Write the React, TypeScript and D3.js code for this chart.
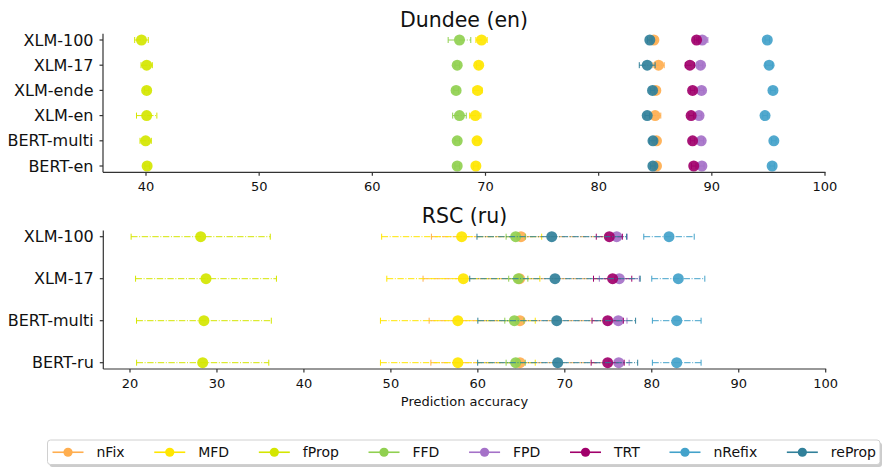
import React, { useMemo } from "react";
import * as d3 from "d3";

// ---------- DATA ----------
const seriesNames = ["nFix", "MFD", "fProp", "FFD", "FPD", "TRT", "nRefix", "reProp"];
const seriesColors = ["#ffae4f", "#ffe600", "#d4e600", "#90d050", "#a571c8", "#a1006b", "#43a2ca", "#31809a"];

const dundeeModels = ["XLM-100", "XLM-17", "XLM-ende", "XLM-en", "BERT-multi", "BERT-en"];
const dundeeTicks = [40, 50, 60, 70, 80, 90, 100];

const dundeeNFix = [84.88, 85.29, 85.05, 84.99, 85.11, 85.11];
const dundeeNFixErr = [0.2, 0.5, 0.2, 0.5, 0.2, 0.2];
const dundeeMFD = [69.65, 69.4, 69.3, 69.1, 69.25, 69.15];
const dundeeMFDErr = [0.5, 0.2, 0.4, 0.5, 0.2, 0.2];
const dundeeFProp = [39.6, 40.06, 40.06, 40.06, 39.97, 40.1];
const dundeeFPropErr = [0.6, 0.5, 0.2, 0.9, 0.5, 0.2];
const dundeeFFD = [67.7, 67.5, 67.4, 67.7, 67.5, 67.5];
const dundeeFFDErr = [1.0, 0.2, 0.2, 0.6, 0.2, 0.2];
const dundeeFPD = [89.15, 89.0, 89.09, 88.87, 89.06, 89.12];
const dundeeFPDErr = [0.5, 0.2, 0.2, 0.2, 0.2, 0.2];
const dundeeTRT = [88.65, 88.06, 88.3, 88.17, 88.3, 88.4];
const dundeeTRTErr = [0.2, 0.4, 0.2, 0.2, 0.2, 0.2];
const dundeeNRefix = [94.9, 95.06, 95.4, 94.7, 95.48, 95.33];
const dundeeNRefixErr = [0.2, 0.3, 0.2, 0.2, 0.2, 0.2];
const dundeeReProp = [84.52, 84.29, 84.76, 84.29, 84.8, 84.79];
const dundeeRePropErr = [0.2, 0.7, 0.2, 0.2, 0.3, 0.2];

const rscModels = ["XLM-100", "XLM-17", "BERT-multi", "BERT-ru"];
const rscTicks = [20, 30, 40, 50, 60, 70, 80, 90, 100];

const rscNFix = [64.96, 64.8, 64.85, 64.85];
const rscNFixErr = [10.3, 11.1, 10.45, 10.25];
const rscMFD = [58.14, 58.33, 57.7, 57.7];
const rscMFDErr = [9.2, 8.8, 8.9, 8.9];
const rscFProp = [28.13, 28.74, 28.5, 28.36];
const rscFPropErr = [8.0, 8.1, 7.75, 7.6];
const rscFFD = [64.35, 64.65, 64.2, 64.35];
const rscFFDErr = [1.1, 1.1, 1.1, 1.1];
const rscFPD = [75.97, 76.27, 76.15, 76.2];
const rscFPDErr = [1.2, 2.3, 1.0, 1.2];
const rscTRT = [75.12, 75.5, 74.93, 74.93];
const rscTRTErr = [1.5, 2.2, 1.8, 1.9];
const rscNRefix = [81.98, 83.05, 82.87, 82.87];
const rscNRefixErr = [2.9, 3.05, 2.8, 2.8];
const rscReProp = [68.5, 68.87, 69.07, 69.18];
const rscRePropErr = [8.6, 9.8, 9.07, 9.2];

const dundeeValues = [dundeeNFix, dundeeMFD, dundeeFProp, dundeeFFD, dundeeFPD, dundeeTRT, dundeeNRefix, dundeeReProp];
const dundeeErrors = [dundeeNFixErr, dundeeMFDErr, dundeeFPropErr, dundeeFFDErr, dundeeFPDErr, dundeeTRTErr, dundeeNRefixErr, dundeeRePropErr];
const rscValues = [rscNFix, rscMFD, rscFProp, rscFFD, rscFPD, rscTRT, rscNRefix, rscReProp];
const rscErrors = [rscNFixErr, rscMFDErr, rscFPropErr, rscFFDErr, rscFPDErr, rscTRTErr, rscNRefixErr, rscRePropErr];

const FONT = "'DejaVu Sans', sans-serif";
const AXIS = "#333";

type PanelProps = {
  title: string;
  models: string[];
  ticks: number[];
  values: number[][];
  errors: number[][];
  xDomain: [number, number];
  xRange: [number, number];
  yRange: [number, number];
  titleY: number;
  xlabel?: string;
};

function Panel(p: PanelProps) {
  const n = p.models.length;
  const x = d3.scaleLinear().domain(p.xDomain).range(p.xRange);
  const pad = 0.05 * (n - 1);
  const y = d3.scaleLinear().domain([-pad, n - 1 + pad]).range(p.yRange);
  const [x0, x1] = p.xRange;
  const [y0, y1] = p.yRange;
  const cx = (x0 + x1) / 2;
  return (
    <g>
      <text x={cx} y={p.titleY} textAnchor="middle" fontSize={20.5} fontFamily={FONT} fill="#111">
        {p.title}
      </text>
      {p.values.map((vals, si) => (
        <g key={si}>
          {vals.map((v, i) => {
            const e = p.errors[si][i];
            const yy = y(i);
            const c = seriesColors[si];
            return (
              <g key={i}>
                <line x1={x(v - e)} x2={x(v + e)} y1={yy} y2={yy} stroke={c} strokeWidth={1} strokeDasharray="6.4,1.6,1,1.6" />
                <line x1={x(v - e)} x2={x(v - e)} y1={yy - 3} y2={yy + 3} stroke={c} strokeWidth={1} />
                <line x1={x(v + e)} x2={x(v + e)} y1={yy - 3} y2={yy + 3} stroke={c} strokeWidth={1} />
                <circle cx={x(v)} cy={yy} r={5.5} fill={c} opacity={0.92} />
              </g>
            );
          })}
        </g>
      ))}
      {/* spines */}
      <line x1={x0} x2={x0} y1={y0} y2={y1} stroke={AXIS} strokeWidth={1.2} />
      <line x1={x0} x2={x1 + 0.5} y1={y1} y2={y1} stroke={AXIS} strokeWidth={1.2} />
      {p.models.map((m, i) => (
        <g key={m}>
          <line x1={x0 - 3.5} x2={x0} y1={y(i)} y2={y(i)} stroke={AXIS} strokeWidth={1.2} />
          <text x={x0 - 9.5} y={y(i)} dy="0.35em" textAnchor="end" fontSize={16} fontFamily={FONT} fill="#111">
            {m}
          </text>
        </g>
      ))}
      {p.ticks.map((t) => (
        <g key={t}>
          <line x1={x(t)} x2={x(t)} y1={y1} y2={y1 + 3.5} stroke={AXIS} strokeWidth={1.2} />
          <text x={x(t)} y={y1 + 19} textAnchor="middle" fontSize={13} fontFamily={FONT} fill="#111">
            {t}
          </text>
        </g>
      ))}
      {p.xlabel && (
        <text x={cx} y={y1 + 37} textAnchor="middle" fontSize={13} fontFamily={FONT} fill="#111">
          {p.xlabel}
        </text>
      )}
    </g>
  );
}

function Legend() {
  const widths = useMemo(() => {
    const cv = document.createElement("canvas");
    const ctx = cv.getContext("2d");
    if (!ctx) return seriesNames.map((s) => s.length * 8);
    ctx.font = "14px 'DejaVu Sans'";
    return seriesNames.map((s) => ctx.measureText(s).width);
  }, []);
  const boxL = 47.5;
  const boxR = 880;
  const boxT = 440;
  const boxB = 464.5;
  const startX = 52.5;
  const endX = 876;
  const handle = 31;
  const textPad = 13;
  const total = widths.reduce((a, b) => a + b, 0) + seriesNames.length * (handle + textPad);
  const spacing = (endX - startX - total) / (seriesNames.length - 1);
  const cy = (boxT + boxB) / 2;
  let cur = startX;
  const items = seriesNames.map((s, i) => {
    const lx = cur;
    cur += handle + textPad + widths[i] + spacing;
    return { s, lx, c: seriesColors[i] };
  });
  return (
    <g>
      <rect x={boxL + 2} y={boxT + 2.5} width={boxR - boxL} height={boxB - boxT} rx={3} fill="#999" opacity={0.5} />
      <rect x={boxL} y={boxT} width={boxR - boxL} height={boxB - boxT} rx={3} fill="#fff" stroke="#d0d0d0" strokeWidth={1} />
      {items.map((it) => (
        <g key={it.s}>
          <line x1={it.lx} x2={it.lx + handle} y1={cy} y2={cy} stroke={it.c} strokeWidth={1.6} />
          <circle cx={it.lx + handle / 2} cy={cy} r={4.6} fill={it.c} />
          <text x={it.lx + handle + textPad} y={cy} dy="0.36em" fontSize={14} fontFamily={FONT} fill="#111">
            {it.s}
          </text>
        </g>
      ))}
    </g>
  );
}

export default function App() {
  return (
    <div style={{ position: "fixed", left: 0, top: 0, background: "#fff" }}>
      <svg width={883} height={468} style={{ display: "block" }}>
        <rect width={883} height={468} fill="#fff" />
        <Panel
          title="Dundee (en)"
          models={dundeeModels}
          ticks={dundeeTicks}
          values={dundeeValues}
          errors={dundeeErrors}
          xDomain={[36.2, 100]}
          xRange={[103, 825]}
          yRange={[33.7, 172.3]}
          titleY={27}
        />
        <Panel
          title="RSC (ru)"
          models={rscModels}
          ticks={rscTicks}
          values={rscValues}
          errors={rscErrors}
          xDomain={[16.93, 100]}
          xRange={[103.3, 825.7]}
          yRange={[230.4, 369]}
          titleY={223}
          xlabel="Prediction accuracy"
        />
        <Legend />
      </svg>
    </div>
  );
}
